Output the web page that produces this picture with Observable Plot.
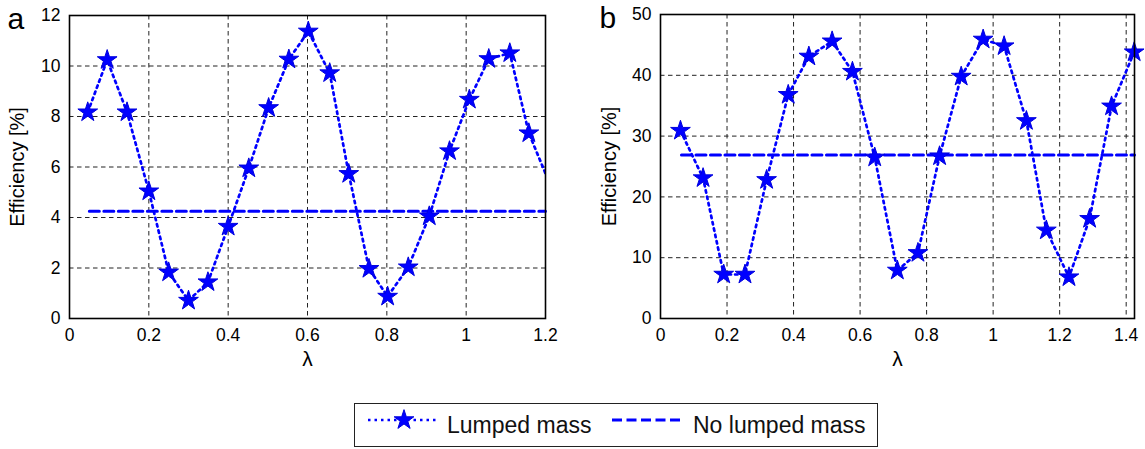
<!DOCTYPE html>
<html>
<head>
<meta charset="utf-8">
<script src="https://cdn.jsdelivr.net/npm/d3@7"></script>
<script src="https://cdn.jsdelivr.net/npm/@observablehq/plot@0.6"></script>
<style>
  html, body { margin: 0; padding: 0; background: #fff; }
  #root { position: relative; width: 1145px; height: 449px; overflow: hidden; font-family: "Liberation Sans", Arial, sans-serif; }
  .panel { position: absolute; top: 0; }
  #legend { position: absolute; left: 354px; top: 403px; width: 522px; height: 42px; border: 1.5px solid #222; background: #fff; }
</style>
</head>
<body>
<div id="root">
  <div id="pa" class="panel" style="left:0px"></div>
  <div id="pb" class="panel" style="left:590px"></div>
  <div id="legend"></div>
</div>
<script>
// ---------- data ----------
const seriesNames = ["Lumped mass", "No lumped mass"];
const yLabel = "Efficiency [%]";
const xLabel = "λ";

// panel a
const panelALetter = "a";
const lambdaA = [0.046, 0.095, 0.145, 0.200, 0.250, 0.300, 0.349, 0.400, 0.452, 0.502, 0.553, 0.602,
                 0.656, 0.704, 0.755, 0.802, 0.854, 0.907, 0.958, 1.008, 1.057, 1.110, 1.158, 1.209];
const effA    = [8.17, 10.24, 8.17, 5.04, 1.83, 0.71, 1.44, 3.64, 5.95, 8.34, 10.26, 11.37,
                 9.72, 5.73, 1.97, 0.87, 2.03, 4.05, 6.63, 8.67, 10.28, 10.51, 7.34, 5.4];
const noLumpedALambda = [0.05, 1.2];
const noLumpedAEff = 4.25;
const xTicksA = [0, 0.2, 0.4, 0.6, 0.8, 1, 1.2];
const yTicksA = [0, 2, 4, 6, 8, 10, 12];
const xDomainA = [0, 1.2];
const yDomainA = [0, 12];

// panel b
const panelBLetter = "b";
const lambdaB = [0.060, 0.128, 0.190, 0.254, 0.319, 0.384, 0.446, 0.516, 0.577, 0.644, 0.712,
                 0.774, 0.839, 0.904, 0.970, 1.033, 1.100, 1.160, 1.228, 1.290, 1.356, 1.424];
const effB    = [30.9, 23.1, 7.24, 7.24, 22.8, 36.8, 43.1, 45.6, 40.6, 26.5, 7.9,
                 10.8, 26.7, 39.8, 45.9, 44.8, 32.5, 14.5, 6.8, 16.4, 34.9, 43.8];
const noLumpedBLambda = [0.063, 1.425];
const noLumpedBEff = 26.9;
const xTicksB = [0, 0.2, 0.4, 0.6, 0.8, 1, 1.2, 1.4];
const yTicksB = [0, 10, 20, 30, 40, 50];
const xDomainB = [0, 1.425];
const yDomainB = [0, 50];

// ---------- styles ----------
const BLUE = "#0000ff";
const FONT = "'Liberation Sans', Arial, sans-serif";
const dotted = {stroke: BLUE, strokeWidth: 2.7, strokeDasharray: "2.5,4"};
const dashed = {stroke: BLUE, strokeWidth: 3, strokeDasharray: "10,4.5"};
const gridStyle = {stroke: "#222", strokeOpacity: 1, strokeWidth: 1, strokeDasharray: "4.5,3.5"};
const fmt = d3.format("~g");

function panel({letter, lambda, eff, nlLambda, nlEff, xTicks, yTicks, xDomain, yDomain, width, mLeft, mRight, mTop, letterDx, ylabDx}) {
  const pts = lambda.map((x, i) => ({x, y: eff[i]}));
  const nl = nlLambda.map(x => ({x, y: nlEff}));
  return Plot.plot({
    width, height: 385,
    marginLeft: mLeft, marginRight: mRight, marginTop: mTop, marginBottom: 67,
    style: {fontFamily: FONT, fontSize: "17px", color: "#000", background: "transparent", overflow: "visible"},
    x: {domain: xDomain, label: null},
    y: {domain: yDomain, label: null},
    marks: [
      Plot.gridX(xTicks, gridStyle),
      Plot.gridY(yTicks, gridStyle),
      Plot.axisX(xTicks, {tickSize: 0, tickPadding: 10, tickFormat: fmt, fontSize: 17.5}),
      Plot.axisY(yTicks, {tickSize: 0, tickPadding: 9, tickFormat: fmt, fontSize: 17.5}),
      Plot.line(nl, {x: "x", y: "y", ...dashed}),
      Plot.line(pts, {x: "x", y: "y", ...dotted, clip: true}),
      Plot.dot(pts.filter(d => d.x <= xDomain[1]), {x: "x", y: "y", symbol: "star", r: 6.2, fill: BLUE, stroke: "#0000dd", strokeWidth: 1}),
      Plot.frame({stroke: "#000", strokeWidth: 1.6}),
      Plot.text([yLabel], {frameAnchor: "left", rotate: -90, dx: ylabDx, textAnchor: "middle", lineAnchor: "middle", fontSize: 20, fill: "#000"}),
      Plot.text([xLabel], {frameAnchor: "bottom", dy: 41, textAnchor: "middle", lineAnchor: "middle", fontSize: 21, fill: "#000"}),
      Plot.text([letter], {frameAnchor: "top-left", dx: letterDx, dy: 4, textAnchor: "start", lineAnchor: "middle", fontSize: 30, fill: "#000"})
    ]
  });
}

document.getElementById("pa").append(panel({
  letter: panelALetter, lambda: lambdaA, eff: effA, nlLambda: noLumpedALambda, nlEff: noLumpedAEff,
  xTicks: xTicksA, yTicks: yTicksA, xDomain: xDomainA, yDomain: yDomainA,
  width: 575, mLeft: 69, mRight: 30, mTop: 15, letterDx: -62, ylabDx: -52
}));
document.getElementById("pb").append(panel({
  letter: panelBLetter, lambda: lambdaB, eff: effB, nlLambda: noLumpedBLambda, nlEff: noLumpedBEff,
  xTicks: xTicksB, yTicks: yTicksB, xDomain: xDomainB, yDomain: yDomainB,
  width: 555, mLeft: 70, mRight: 11, mTop: 14, letterDx: -61, ylabDx: -51
}));

// ---------- legend ----------
const lg = d3.select("#legend").append("svg").attr("width", 522).attr("height", 42)
  .style("display", "block").style("font-family", FONT);
lg.append("line").attr("x1", 13).attr("x2", 83).attr("y1", 16).attr("y2", 16)
  .attr("stroke", BLUE).attr("stroke-width", 2.7).attr("stroke-dasharray", "2.5,4");
lg.append("path").attr("d", d3.symbol(d3.symbolStar, Math.PI * 6.2 * 6.2)())
  .attr("transform", "translate(49,16)").attr("fill", BLUE).attr("stroke", "#0000dd");
lg.append("text").attr("x", 92).attr("y", 29).attr("font-size", 23).attr("fill", "#111").text(seriesNames[0]);
lg.append("line").attr("x1", 257).attr("x2", 326).attr("y1", 16).attr("y2", 16)
  .attr("stroke", BLUE).attr("stroke-width", 3).attr("stroke-dasharray", "10,4.5");
lg.append("text").attr("x", 338).attr("y", 29).attr("font-size", 23).attr("fill", "#111").text(seriesNames[1]);
</script>
</body>
</html>
